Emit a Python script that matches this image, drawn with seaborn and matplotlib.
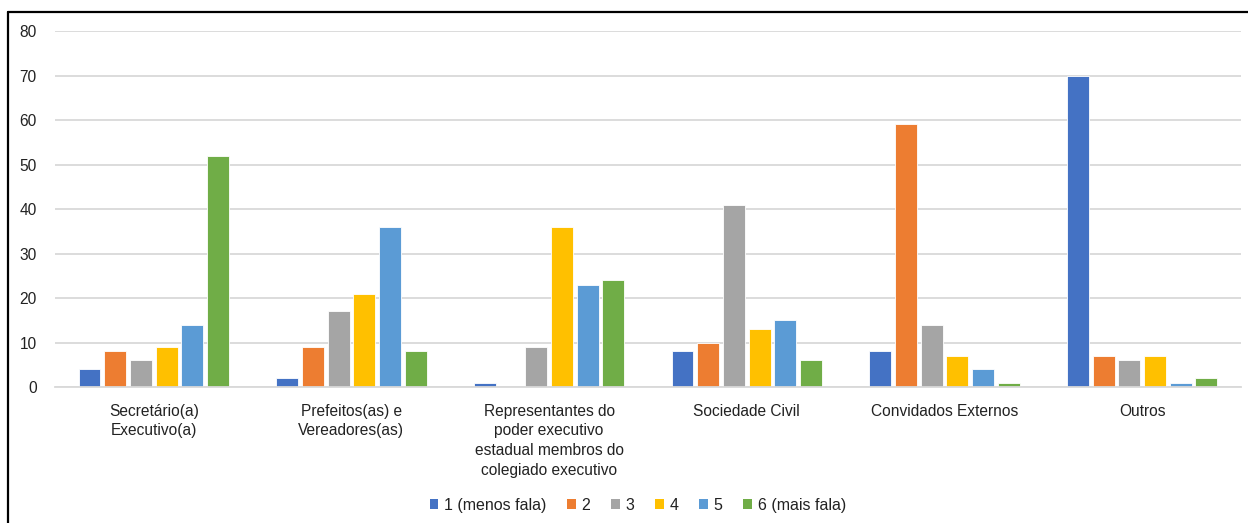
import matplotlib
matplotlib.use("Agg")
import matplotlib.pyplot as plt
import seaborn as sns
import pandas as pd
from matplotlib.lines import Line2D
from matplotlib.patches import Patch

categories = [
    "Secretário(a)\nExecutivo(a)",
    "Prefeitos(as) e\nVereadores(as)",
    "Representantes do\npoder executivo\nestadual membros do\ncolegiado executivo",
    "Sociedade Civil",
    "Convidados Externos",
    "Outros",
]
series_names = ["1 (menos fala)", "2", "3", "4", "5", "6 (mais fala)"]
s1 = [4, 2, 1, 8, 8, 70]
s2 = [8, 9, 0, 10, 59, 7]
s3 = [6, 17, 9, 41, 14, 6]
s4 = [9, 21, 36, 13, 7, 7]
s5 = [14, 36, 23, 15, 4, 1]
s6 = [52, 8, 24, 6, 1, 2]
y_ticks = [0, 10, 20, 30, 40, 50, 60, 70, 80]

colors = ["#4472C4", "#ED7D31", "#A5A5A5", "#FFC000", "#5B9BD5", "#70AD47"]

rows = []
for name, vals in zip(series_names, [s1, s2, s3, s4, s5, s6]):
    for cat, v in zip(categories, vals):
        rows.append({"cat": cat, "serie": name, "val": v})
df = pd.DataFrame(rows)

sns.set_theme(style="white")
plt.rcParams["font.family"] = ["Liberation Sans", "DejaVu Sans"]

fig = plt.figure(figsize=(12.48, 5.23), dpi=100)
ax = fig.add_axes([0.044, 0.26, 0.9504, 0.6807])

sns.barplot(data=df, x="cat", y="val", hue="serie", order=categories,
            hue_order=series_names, palette=colors, width=0.78, gap=0.15,
            edgecolor="white", linewidth=0.6, saturation=1, ax=ax, legend=False)

ax.set_ylim(0, 80)
ax.set_yticks(y_ticks)
ax.yaxis.grid(True, color="#d9d9d9", linewidth=1.3)
ax.set_axisbelow(True)
for side in ["left", "right", "top"]:
    ax.spines[side].set_visible(False)
ax.spines["bottom"].set_color("#d9d9d9")
ax.spines["bottom"].set_linewidth(1.3)
ax.set_xlabel("")
ax.set_ylabel("")
ax.tick_params(axis="both", length=0, labelsize=11.2, colors="#222222")
ax.tick_params(axis="y", pad=13)
ax.tick_params(axis="x", pad=12)
for lbl in ax.get_xticklabels():
    lbl.set_linespacing(1.4)
    lbl.set_verticalalignment("top")

handles = [Patch(facecolor=c, edgecolor="none") for c in colors]
fig.legend(handles, series_names, loc="lower center", ncol=6,
           bbox_to_anchor=(0.511, -0.008), frameon=False, fontsize=11.5,
           handlelength=0.55, handleheight=0.55, handletextpad=0.35,
           columnspacing=1.3, labelcolor="#222222")

x0 = 8 / 1248
y0 = 1 - 12 / 523
fig.add_artist(Line2D([x0, x0], [0, y0], transform=fig.transFigure,
                      color="black", linewidth=1.6))
fig.add_artist(Line2D([x0, 1], [y0, y0], transform=fig.transFigure,
                      color="black", linewidth=1.6))

fig.savefig("out.png", dpi=100, facecolor="white")
